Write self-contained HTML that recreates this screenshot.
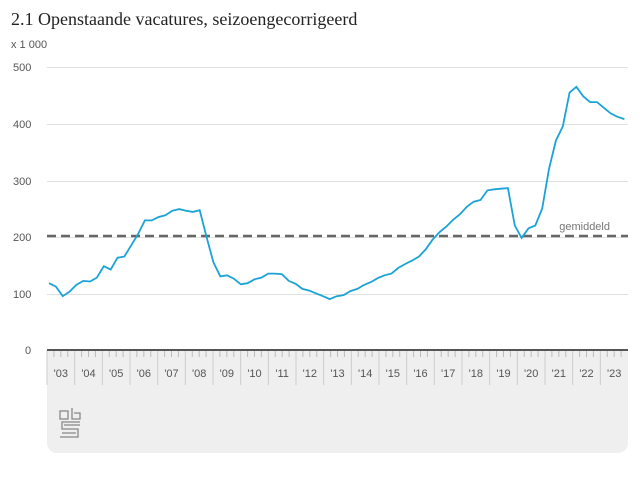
<!DOCTYPE html><html><head><style>body{margin:0;background:#fff}svg{display:block}</style></head><body>
<svg width="640" height="480" xmlns="http://www.w3.org/2000/svg" font-family="Liberation Sans, sans-serif">
<text x="11" y="25" font-family="Liberation Serif, serif" font-size="18" fill="#222">2.1 Openstaande vacatures, seizoengecorrigeerd</text>
<text x="11" y="48" font-size="11" fill="#555">x 1 000</text>
<path d="M47,350 H628 V443 a10,10 0 0 1 -10,10 H57 a10,10 0 0 1 -10,-10 Z" fill="#efefef"/>
<g stroke="#e0e0e0" stroke-width="1">
<line x1="47" y1="67.5" x2="628" y2="67.5"/><line x1="47" y1="124.5" x2="628" y2="124.5"/><line x1="47" y1="181.5" x2="628" y2="181.5"/><line x1="47" y1="237.5" x2="628" y2="237.5"/><line x1="47" y1="294.5" x2="628" y2="294.5"/></g>
<g font-size="11" fill="#555"><text x="13" y="71">500</text><text x="13" y="128">400</text><text x="13" y="185">300</text><text x="13" y="241">200</text><text x="13" y="298">100</text><text x="25" y="354">0</text></g>
<line x1="47" y1="236" x2="628" y2="236" stroke="#666" stroke-width="2.5" stroke-dasharray="9,5"/>
<text x="610" y="230" font-size="11" fill="#777" text-anchor="end">gemiddeld</text>
<g id="ticks"></g>
<line x1="47" y1="350" x2="628" y2="350" stroke="#555" stroke-width="2"/>
<polyline id="ln" fill="none" stroke="#1aa3d6" stroke-width="1.8"/>
<g id="lbl" font-size="11" fill="#555" text-anchor="middle"></g>
<g transform="translate(60,411)" fill="none" stroke="#888" stroke-width="1.3">
<rect x="0" y="0" width="8" height="8"/><path d="M12,-3 V8 H20 V2 H14"/><path d="M20,11 H2 V18 H18 V26 H0 M4,14 H20 M2,22 H16"/></g>
</svg>
<script>
var d=[118,112,95,103,115,122,121,128,148,142,163,165,185,205,229,229,235,238,246,249,246,244,247,200,155,130,132,126,116,118,125,128,135,135,134,122,117,108,105,100,95,90,95,97,104,108,115,120,127,132,135,145,152,158,165,178,195,208,218,230,240,253,262,265,282,284,285,286,220,198,215,220,250,320,370,395,455,465,448,438,438,428,418,412,408];
var W=581/21/4,pts=[];
d.forEach(function(v,i){pts.push((49+i*6.85).toFixed(1)+","+(350-v*0.566).toFixed(1))});
document.getElementById("ln").setAttribute("points",pts.join(" "));
var t="",l="";
for(var y=0;y<21;y++){var x0=47+y*W*4;t+='<line x1="'+x0+'" y1="350" x2="'+x0+'" y2="385" stroke="#ccc"/>';
for(var q=1;q<4;q++){var x=x0+q*W;t+='<line x1="'+x+'" y1="350" x2="'+x+'" y2="357" stroke="#bbb"/>';}
l+='<text x="'+(x0+W*2)+'" y="377">\''+String(y+3).padStart(2,"0")+'</text>';}
document.getElementById("ticks").innerHTML=t;document.getElementById("lbl").innerHTML=l;
</script>
</body></html>
